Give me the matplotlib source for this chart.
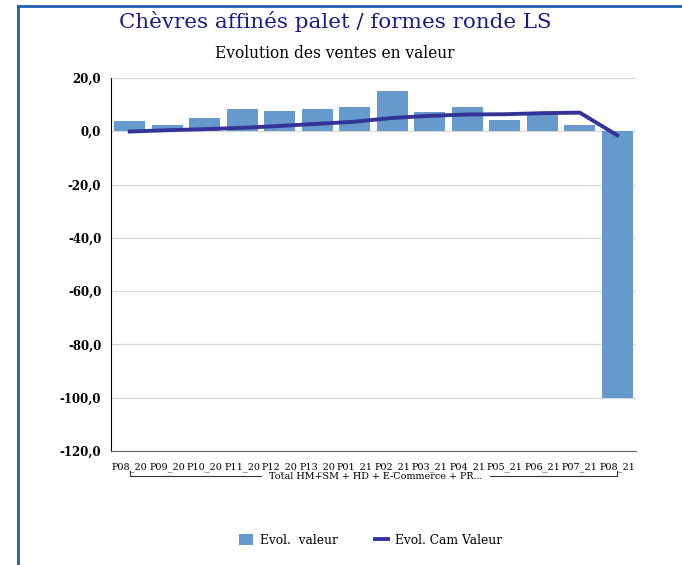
import matplotlib
matplotlib.use("Agg")
import matplotlib.pyplot as plt
import numpy as np

# --------------------------------------------------------------------------- #
# Data
# --------------------------------------------------------------------------- #
periods = ["P08_20", "P09_20", "P10_20", "P11_20", "P12_20", "P13_20", "P01_21",
           "P02_21", "P03_21", "P04_21", "P05_21", "P06_21", "P07_21", "P08_21"]
evol_valeur = [3.9, 2.4, 5.0, 8.4, 7.7, 8.4, 9.2, 15.2, 7.3, 9.2, 4.3, 7.3, 2.4, -100.0]
evol_cam = [-0.1, 0.4, 0.8, 1.3, 2.0, 2.8, 3.6, 5.0, 5.8, 6.3, 6.4, 6.8, 7.0, -1.5]
group_label = "Total HM+SM + HD + E-Commerce + PR..."
yticks = [20, 0, -20, -40, -60, -80, -100, -120]

BAR_COLOR = "#6699cc"
LINE_COLOR = "#333399"
SERIF = "DejaVu Serif"

fig = plt.figure(figsize=(6.82, 5.65), dpi=100)
ax = fig.add_axes([111 / 682, 1 - 451 / 565, 525 / 682, 373 / 565])

x = np.arange(len(periods))
bars = ax.bar(x, evol_valeur, width=0.82, color=BAR_COLOR, zorder=2)
line, = ax.plot(x, evol_cam, color=LINE_COLOR, lw=2.8, zorder=3)

ax.set_xlim(-0.5, len(periods) - 0.5)
ax.set_ylim(-120, 20)
ax.set_yticks(yticks)
ax.set_yticklabels([f"{v:.1f}".replace(".", ",") for v in yticks],
                   fontfamily=SERIF, fontsize=8.5, fontweight="bold")
ax.set_xticks(x)
ax.set_xticklabels(periods, fontfamily=SERIF, fontsize=6.9)
ax.tick_params(length=0)
ax.tick_params(axis="x", pad=8)
ax.tick_params(axis="y", pad=7)
ax.grid(axis="y", color="#d9d9d9", lw=0.9, zorder=0)
for s in ["top", "right"]:
    ax.spines[s].set_visible(False)
ax.spines["left"].set_color("black")
ax.spines["bottom"].set_color("#666666")

# group bracket under the category labels
trans = ax.get_xaxis_transform()
yb = -0.068
ax.plot([0, 0, 3.5], [yb + 0.015, yb, yb], color="#333333", lw=0.8,
        transform=trans, clip_on=False)
ax.plot([9.6, 13, 13], [yb, yb, yb + 0.015], color="#333333", lw=0.8,
        transform=trans, clip_on=False)
ax.text(6.55, yb, group_label, ha="center", va="center", fontfamily=SERIF,
        fontsize=6.9, transform=trans)

# titles
fig.text(335 / 682, 1 - 21 / 565, "Chèvres affinés palet / formes ronde LS",
         ha="center", va="center", fontfamily=SERIF, fontsize=15.4, color="#1a1a8c")
fig.text(335 / 682, 1 - 53 / 565, "Evolution des ventes en valeur",
         ha="center", va="center", fontfamily=SERIF, fontsize=11.2)

# legend
fig.legend([bars, line], ["Evol.  valeur", "Evol. Cam Valeur"],
           loc="center", bbox_to_anchor=(371 / 682, 1 - 540 / 565), ncol=2,
           frameon=False, prop={"family": SERIF, "size": 8.8},
           handlelength=1.1, handleheight=1.0, handletextpad=0.6,
           columnspacing=3.0)

# blue frame (left and top edges)
fig.add_artist(plt.Line2D([17.5 / 682, 17.5 / 682], [0, 1 - 5.5 / 565],
                          color="#1f5fb4", lw=2, transform=fig.transFigure))
fig.add_artist(plt.Line2D([17.5 / 682, 1], [1 - 5.5 / 565, 1 - 5.5 / 565],
                          color="#1f5fb4", lw=2, transform=fig.transFigure))

fig.savefig("out.png", dpi=100)
